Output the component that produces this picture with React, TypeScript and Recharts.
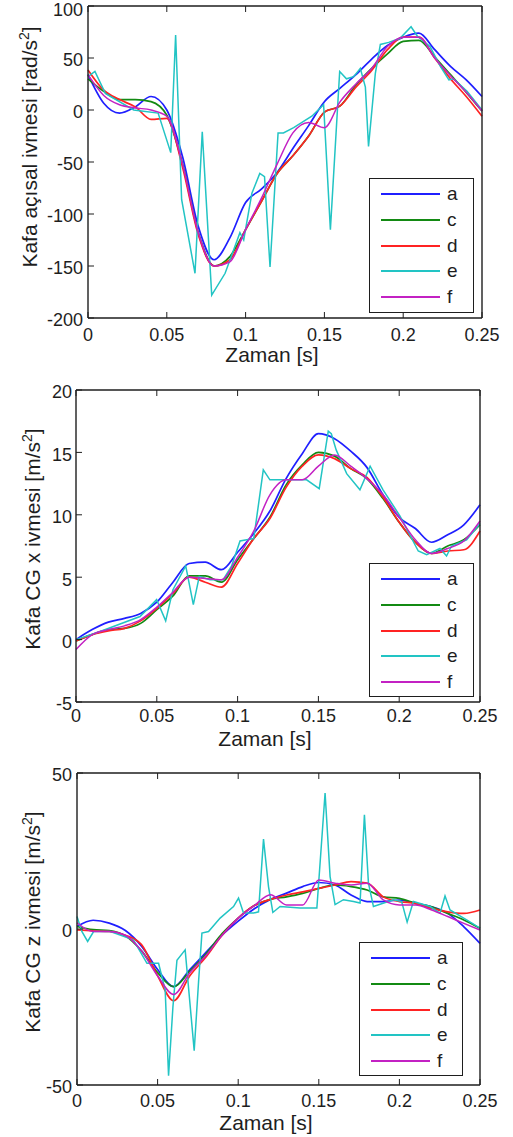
import React from "react";
import { LineChart, Line, XAxis, YAxis } from "recharts";

const FONT = "'Liberation Sans', Arial, Helvetica, sans-serif";
const INK = "#1e1e1e";
const TICK = 6;

const seriesNames = ["a", "c", "d", "e", "f"];
const seriesColors = ["#1f1fff", "#138a13", "#ff2323", "#22c4c4", "#c321c3"];

// common time base for the smooth curves [s]
const t = [
  0, 0.01, 0.02, 0.03, 0.04, 0.05, 0.06, 0.07, 0.08, 0.09, 0.1, 0.11, 0.12,
  0.13, 0.14, 0.15, 0.16, 0.17, 0.18, 0.19, 0.2, 0.21, 0.22, 0.23, 0.24, 0.25,
];
const xTicks = [0, 0.05, 0.1, 0.15, 0.2, 0.25];

// --- Kafa açısal ivmesi [rad/s2]
const angYTicks = [-200, -150, -100, -50, 0, 50, 100];
const angA = [34, 6.5, -3, 3, 13, 0, -45, -112, -144, -123, -89, -76, -60, -37, -15, 8, 21, 34, 49, 62, 70, 74, 58, 42, 29, 13];
const angC = [30, 18, 10, 10, 8, -5, -52, -118, -150, -141, -115, -88, -61, -44, -25, -2, 4, 24, 40, 54, 66, 67, 51, 34, 17, -1];
const angD = [38.5, 19, 10, 3, -9, -8, -55, -120, -150, -144, -115, -88, -61, -44, -25, -2, 4, 22, 38, 58, 70, 70, 50, 30, 13, -6];
const angF = [34, 14, 5, 2, 0, -6, -52, -118, -150, -146, -115, -85, -52, -22, -12, -17, 8, 25, 40, 61, 70, 70, 50, 33, 17, -1];
const angETime = [
  0, 0.0044, 0.011, 0.029, 0.0445, 0.0525, 0.0556, 0.0594, 0.0679, 0.0725,
  0.0785, 0.087, 0.0964, 0.0988, 0.104, 0.109, 0.112, 0.1155, 0.1206, 0.124,
  0.1305, 0.142, 0.1495, 0.1538, 0.1597, 0.164, 0.1686, 0.1728, 0.176, 0.178,
  0.1823, 0.1855, 0.1908, 0.198, 0.205, 0.209, 0.217, 0.2236, 0.229, 0.232,
  0.2405, 0.25,
];
const angE = [
  32, 37, 16, 0, -3, -41, 72, -86, -157, -21,
  -178, -157, -118, -125, -80, -61, -64, -151, -22, -22,
  -17, -6, 5, -115, 37, 30, 32, 40, 22, -35,
  35, 63, 65, 69, 80, 71, 61, 42, 29, 30,
  18, 0,
];

// --- Kafa CG x ivmesi [m/s2]
const cgxYTicks = [-5, 0, 5, 10, 15, 20];
const cgxA = [0, 0.8, 1.4, 1.7, 2.1, 3.0, 4.6, 6.1, 6.2, 5.6, 7.0, 8.5, 10.3, 12.9, 14.9, 16.5, 16.1, 15.1, 13.8, 11.6, 9.8, 8.9, 7.8, 8.4, 9.2, 10.8];
const cgxC = [-0.1, 0.4, 0.8, 0.9, 1.3, 2.4, 3.5, 5.1, 5.1, 4.6, 6.4, 8.1, 9.8, 12.4, 14.0, 15.0, 14.7, 13.7, 12.9, 11.3, 9.4, 7.8, 6.9, 7.5, 8.0, 9.2];
const cgxD = [-0.1, 0.4, 0.7, 0.9, 1.5, 2.5, 3.7, 5.0, 4.6, 4.2, 6.1, 8.1, 9.7, 12.2, 13.9, 14.8, 14.5, 13.7, 13.0, 11.4, 9.4, 7.8, 6.9, 7.1, 7.2, 8.7];
const cgxF = [-0.8, 0.4, 0.8, 1.1, 1.6, 2.6, 3.8, 5.0, 4.9, 4.8, 6.6, 8.7, 11.6, 12.8, 12.8, 13.9, 14.8, 13.9, 12.9, 11.6, 9.8, 8.0, 6.9, 7.3, 7.9, 9.5];
const cgxETime = [
  0, 0.0149, 0.0396, 0.0499, 0.0555, 0.06, 0.0679, 0.0726, 0.0763, 0.0829,
  0.0911, 0.0963, 0.1015, 0.1056, 0.11, 0.1159, 0.12, 0.1303, 0.1427, 0.1505,
  0.1561, 0.158, 0.161, 0.1675, 0.1757, 0.182, 0.19, 0.2005, 0.2118, 0.217,
  0.2252, 0.2293, 0.2324, 0.2417, 0.25,
];
const cgxE = [
  0, 0.65, 1.85, 3.2, 1.5, 4.0, 5.9, 2.8, 5.06, 4.8,
  4.8, 5.9, 7.9, 8.0, 8.1, 13.6, 12.8, 12.8, 12.8, 12.1,
  16.7, 16.5, 15.2, 13.3, 12.0, 13.9, 12.0, 9.9, 7.1, 6.8,
  7.3, 6.7, 7.5, 8.0, 9.3,
];

// --- Kafa CG z ivmesi [m/s2]
const cgzYTicks = [-50, 0, 50];
const cgzA = [0.8, 2.8, 1.9, -0.5, -5.5, -13, -18.5, -13, -7.5, -2, 2.5, 6.5, 9.5, 11.5, 13.6, 14.9, 14.1, 10.9, 8.8, 8.8, 9.3, 8.2, 7.1, 5.0, 0.7, -4.6];
const cgzC = [0.8, -0.2, -0.5, -2.2, -7, -14, -18.5, -13.5, -8, -1.5, 3.5, 7.5, 9.5, 10.3, 11.4, 13, 14.1, 13.6, 12.5, 10.3, 9.8, 8.2, 7.1, 5, 2.9, 0.2];
const cgzD = [-0.3, -0.6, -0.8, -2, -5, -15, -23, -15, -9, -2, 3.5, 7.5, 9.5, 10.9, 11.9, 13, 14.1, 15.2, 14.7, 10.3, 8.8, 8.2, 6.6, 5.5, 5.0, 6.1];
const cgzF = [2, -0.8, -0.8, -2, -7, -15, -21, -14, -8.5, -2, 3.5, 7.5, 11, 7.7, 7.7, 15.7, 14.7, 14.1, 14.7, 9.3, 7.7, 7.7, 6.1, 4, 1.8, -0.3];
const cgzETime = [
  0, 0.003, 0.0066, 0.0103, 0.0207, 0.035, 0.0434, 0.0506, 0.0547, 0.0568,
  0.0595, 0.062, 0.0671, 0.0727, 0.0754, 0.0775, 0.0816, 0.0888, 0.0971, 0.1002,
  0.1033, 0.1095, 0.1126, 0.1157, 0.1188, 0.1215, 0.126, 0.1384, 0.1488, 0.1539,
  0.157, 0.1601, 0.1653, 0.1715, 0.1756, 0.1783, 0.1808, 0.1839, 0.1963, 0.2014,
  0.2048, 0.2087, 0.219, 0.2252, 0.2283, 0.2314, 0.2417, 0.25,
];
const cgzE = [
  4, -0.8, -4, -0.8, -0.8, -3.5, -11, -11, -19.5, -47,
  -25, -10, -6.7, -39, -17, -1.3, -0.8, 3.5, 7.2, 9.9,
  5.1, 5.1, 5.5, 28.8, 13.6, 5.3, 7.2, 6.7, 6.7, 43.6,
  16.8, 7.8, 9.4, 8.8, 8.3, 36.6, 14.7, 7.2, 9.4, 8.8,
  2.2, 8.8, 7.2, 5.1, 10.6, 6.1, 2.9, 0.3,
];

type Layout = {
  y: number; h: number;
  L: number; T: number; R: number; B: number;
  xGap: number; yGap: number;
  yTitle: [number, number]; xTitle: [number, number];
  legend: [number, number, number, number];
};

const W = 513;

function YTitle({ x, y, main, unit }: { x: number; y: number; main: string; unit: string }) {
  return (
    <text x={x} y={y} transform={`rotate(-90 ${x} ${y})`} textAnchor="middle" fontFamily={FONT} fontSize={21} fill={INK}>
      {`${main} [${unit}`}
      <tspan dy={-8} fontSize={14}>2</tspan>
      <tspan dy={8}>]</tspan>
    </text>
  );
}

function Panel({
  lay, smooth, eTime, eVals, yTicks, title, unit,
}: {
  lay: Layout; smooth: number[][]; eTime: number[]; eVals: number[];
  yTicks: number[]; title: string; unit: string;
}) {
  const data = t.map((x, i) => ({ t: x, a: smooth[0][i], c: smooth[1][i], d: smooth[2][i], f: smooth[3][i] }));
  const eData = eTime.map((x, i) => ({ t: x, e: eVals[i] }));
  const yDomain = [yTicks[0], yTicks[yTicks.length - 1]];
  const axisLine = { stroke: INK, strokeWidth: 1.4 };

  const bottomTick = (p: any) => (
    <g>
      <line x1={p.x} x2={p.x} y1={p.y - lay.xGap} y2={p.y - lay.xGap - TICK} stroke={INK} />
      <text x={p.x} y={p.y} dy="0.71em" textAnchor="middle" fontFamily={FONT} fontSize={18} fill={INK}>
        {String(p.payload.value)}
      </text>
    </g>
  );
  // labels sit ~2px below their tick, the top one is kept inside the page
  const leftTick = (p: any) => (
    <g>
      <line x1={p.x + lay.yGap} x2={p.x + lay.yGap + TICK} y1={p.y} y2={p.y} stroke={INK} />
      <text x={p.x} y={Math.max(p.y + 2, 10)} dy="0.355em" textAnchor="end" fontFamily={FONT} fontSize={18} fill={INK}>
        {String(p.payload.value)}
      </text>
    </g>
  );
  const topTick = (p: any) => <line x1={p.x} x2={p.x} y1={p.y} y2={p.y + TICK} stroke={INK} />;
  const rightTick = (p: any) => <line x1={p.x} x2={p.x - TICK} y1={p.y} y2={p.y} stroke={INK} />;

  const [lx, ly, lw, lh] = lay.legend;

  return (
    <div style={{ position: "absolute", left: 0, top: lay.y, width: W, height: lay.h }}>
      <LineChart
        width={W}
        height={lay.h}
        data={data}
        margin={{ top: lay.T - 1, right: W - lay.R - 1, bottom: 0, left: 0 }}
      >
        <XAxis
          xAxisId="b" type="number" dataKey="t" domain={[0, 0.25]} ticks={xTicks} interval={0}
          height={lay.h - lay.B} tickSize={0} tickMargin={lay.xGap} tickLine={false}
          axisLine={axisLine} tick={bottomTick}
          label={{
            content: () => (
              <text x={lay.xTitle[0]} y={lay.xTitle[1]} textAnchor="middle" fontFamily={FONT} fontSize={21} fill={INK}>
                Zaman [s]
              </text>
            ),
          }}
        />
        <XAxis
          xAxisId="top" orientation="top" type="number" dataKey="t" domain={[0, 0.25]} ticks={xTicks}
          interval={0} height={1} tickSize={0} tickMargin={0} tickLine={false} axisLine={axisLine} tick={topTick}
        />
        <YAxis
          yAxisId="l" type="number" domain={yDomain} ticks={yTicks} interval={0} width={lay.L}
          tickSize={0} tickMargin={lay.yGap} tickLine={false} axisLine={axisLine} tick={leftTick}
          label={{ content: () => <YTitle x={lay.yTitle[0]} y={lay.yTitle[1]} main={title} unit={unit} /> }}
        />
        <YAxis
          yAxisId="r" orientation="right" type="number" domain={yDomain} ticks={yTicks} interval={0}
          width={1} tickSize={0} tickMargin={0} tickLine={false} axisLine={axisLine} tick={rightTick}
        />
        {["a", "c", "d"].map((k, i) => (
          <Line key={k} xAxisId="b" yAxisId="l" type="monotone" dataKey={k} stroke={seriesColors[i]}
            strokeWidth={1.7} dot={false} activeDot={false} isAnimationActive={false} />
        ))}
        <Line xAxisId="b" yAxisId="l" type="linear" data={eData} dataKey="e" stroke={seriesColors[3]}
          strokeWidth={1.5} dot={false} activeDot={false} isAnimationActive={false} />
        <Line xAxisId="b" yAxisId="l" type="monotone" dataKey="f" stroke={seriesColors[4]}
          strokeWidth={1.5} dot={false} activeDot={false} isAnimationActive={false} />
      </LineChart>
      <div
        style={{
          position: "absolute", left: lx, top: ly, width: lw, height: lh, boxSizing: "border-box",
          border: `1.5px solid ${INK}`, background: "#fff",
        }}
      >
        {seriesNames.map((n, i) => (
          <div key={n} style={{ position: "absolute", left: 0, top: 15 + i * 25.8 - 10, height: 20, width: lw }}>
            <div style={{ position: "absolute", left: 11, top: 9, width: 59, height: 2, background: seriesColors[i] }} />
            <span
              style={{
                position: "absolute", left: 77, top: 0, lineHeight: "20px", fontSize: 19,
                fontFamily: FONT, color: INK,
              }}
            >
              {n}
            </span>
          </div>
        ))}
      </div>
    </div>
  );
}

const lay1: Layout = { y: 0, h: 378, L: 88, T: 6, R: 482, B: 318, xGap: 10, yGap: 5, yTitle: [37, 147], xTitle: [272, 362], legend: [369, 178, 105, 135] };
const lay2: Layout = { y: 378, h: 378, L: 76, T: 12, R: 480, B: 324, xGap: 7, yGap: 4, yTitle: [40, 161], xTitle: [265, 368], legend: [369, 185, 105, 134] };
const lay3: Layout = { y: 756, h: 381, L: 77, T: 17, R: 480, B: 329, xGap: 9, yGap: 5, yTitle: [40, 166], xTitle: [266, 374], legend: [359, 186, 104, 134] };

export default function App() {
  return (
    <div style={{ position: "absolute", left: 0, top: 0, width: W, height: 1137, background: "#fff", overflow: "hidden" }}>
      <Panel lay={lay1} smooth={[angA, angC, angD, angF]} eTime={angETime} eVals={angE} yTicks={angYTicks}
        title="Kafa açısal ivmesi" unit="rad/s" />
      <Panel lay={lay2} smooth={[cgxA, cgxC, cgxD, cgxF]} eTime={cgxETime} eVals={cgxE} yTicks={cgxYTicks}
        title="Kafa CG x ivmesi" unit="m/s" />
      <Panel lay={lay3} smooth={[cgzA, cgzC, cgzD, cgzF]} eTime={cgzETime} eVals={cgzE} yTicks={cgzYTicks}
        title="Kafa CG z ivmesi" unit="m/s" />
    </div>
  );
}
